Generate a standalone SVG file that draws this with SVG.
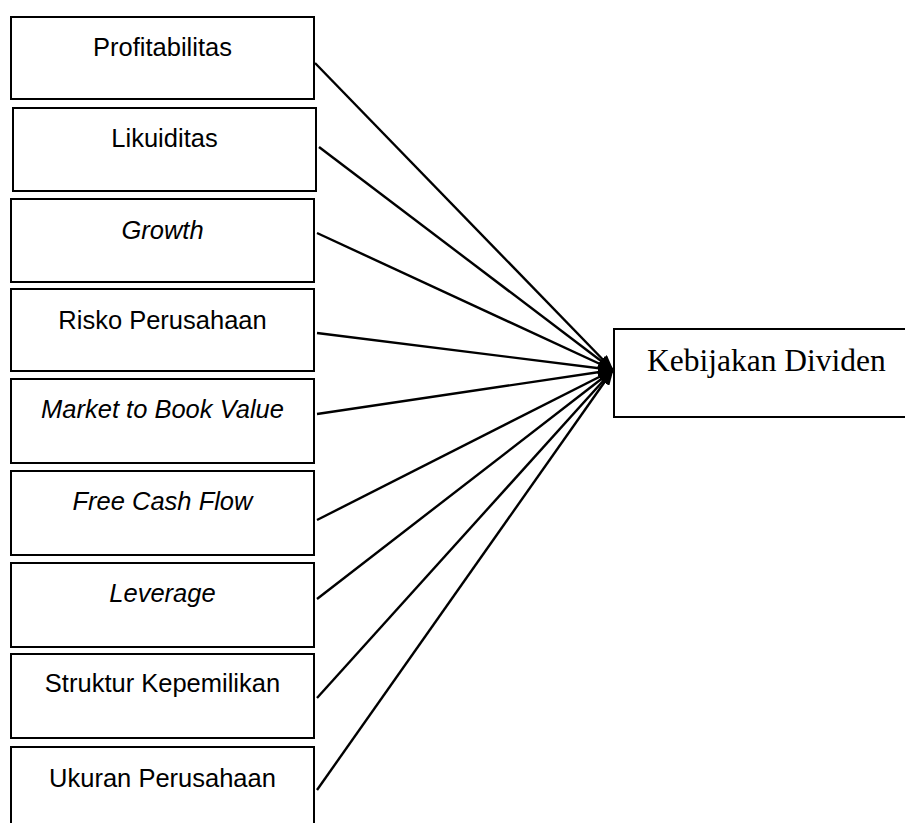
<svg xmlns="http://www.w3.org/2000/svg" width="905" height="823" viewBox="0 0 905 823">
<defs>
<style>
.box{fill:#fff;stroke:#000;stroke-width:2}
.lbl{font-family:"Liberation Sans",Arial,sans-serif;font-size:25.5px;fill:#000;text-anchor:middle}
.it{font-style:italic}
.tgt{font-family:"Liberation Serif","Times New Roman",serif;font-size:31.5px;fill:#000}
.con{stroke:#000;stroke-width:2.4;fill:none}
</style>
<marker id="ah" markerWidth="16" markerHeight="12" refX="15" refY="6" orient="auto" markerUnits="userSpaceOnUse">
<path d="M0,0 L16,6 L0,12 z" fill="#000"/>
</marker>
</defs>
<rect width="905" height="823" fill="#fff"/>
<g id="n-profitabilitas"><rect class="box" x="11" y="17" width="303" height="82"/><text class="lbl" x="162.5" y="56">Profitabilitas</text></g>
<g id="n-likuiditas"><rect class="box" x="13" y="108" width="303" height="83"/><text class="lbl" x="164.5" y="147">Likuiditas</text></g>
<g id="n-growth"><rect class="box" x="11" y="199" width="303" height="83"/><text class="lbl it" x="162.5" y="239">Growth</text></g>
<g id="n-risko"><rect class="box" x="11" y="289" width="303" height="82"/><text class="lbl" x="162.5" y="329">Risko Perusahaan</text></g>
<g id="n-mbv"><rect class="box" x="11" y="379" width="303" height="84"/><text class="lbl it" x="162.5" y="418">Market to Book Value</text></g>
<g id="n-fcf"><rect class="box" x="11" y="471" width="303" height="84"/><text class="lbl it" x="162.5" y="510">Free Cash Flow</text></g>
<g id="n-leverage"><rect class="box" x="11" y="563" width="303" height="84"/><text class="lbl it" x="162.5" y="602">Leverage</text></g>
<g id="n-struktur"><rect class="box" x="11" y="654" width="303" height="84"/><text class="lbl" x="162.5" y="692">Struktur Kepemilikan</text></g>
<g id="n-ukuran"><rect class="box" x="11" y="747" width="303" height="90"/><text class="lbl" x="162.5" y="787">Ukuran Perusahaan</text></g>
<g id="n-kebijakan"><rect class="box" x="614" y="329" width="300" height="88"/><text class="tgt" x="647" y="371">Kebijakan Dividen</text></g>
<g id="connectors">
<line class="con" x1="315" y1="63" x2="613" y2="370" marker-end="url(#ah)"/>
<line class="con" x1="319" y1="147" x2="613" y2="370" marker-end="url(#ah)"/>
<line class="con" x1="317" y1="233" x2="613" y2="370" marker-end="url(#ah)"/>
<line class="con" x1="317" y1="333" x2="613" y2="370" marker-end="url(#ah)"/>
<line class="con" x1="317" y1="414" x2="613" y2="370" marker-end="url(#ah)"/>
<line class="con" x1="317" y1="520" x2="613" y2="370" marker-end="url(#ah)"/>
<line class="con" x1="317" y1="599" x2="613" y2="370" marker-end="url(#ah)"/>
<line class="con" x1="317" y1="698" x2="613" y2="370" marker-end="url(#ah)"/>
<line class="con" x1="317" y1="790" x2="613" y2="370" marker-end="url(#ah)"/>
</g>
</svg>
